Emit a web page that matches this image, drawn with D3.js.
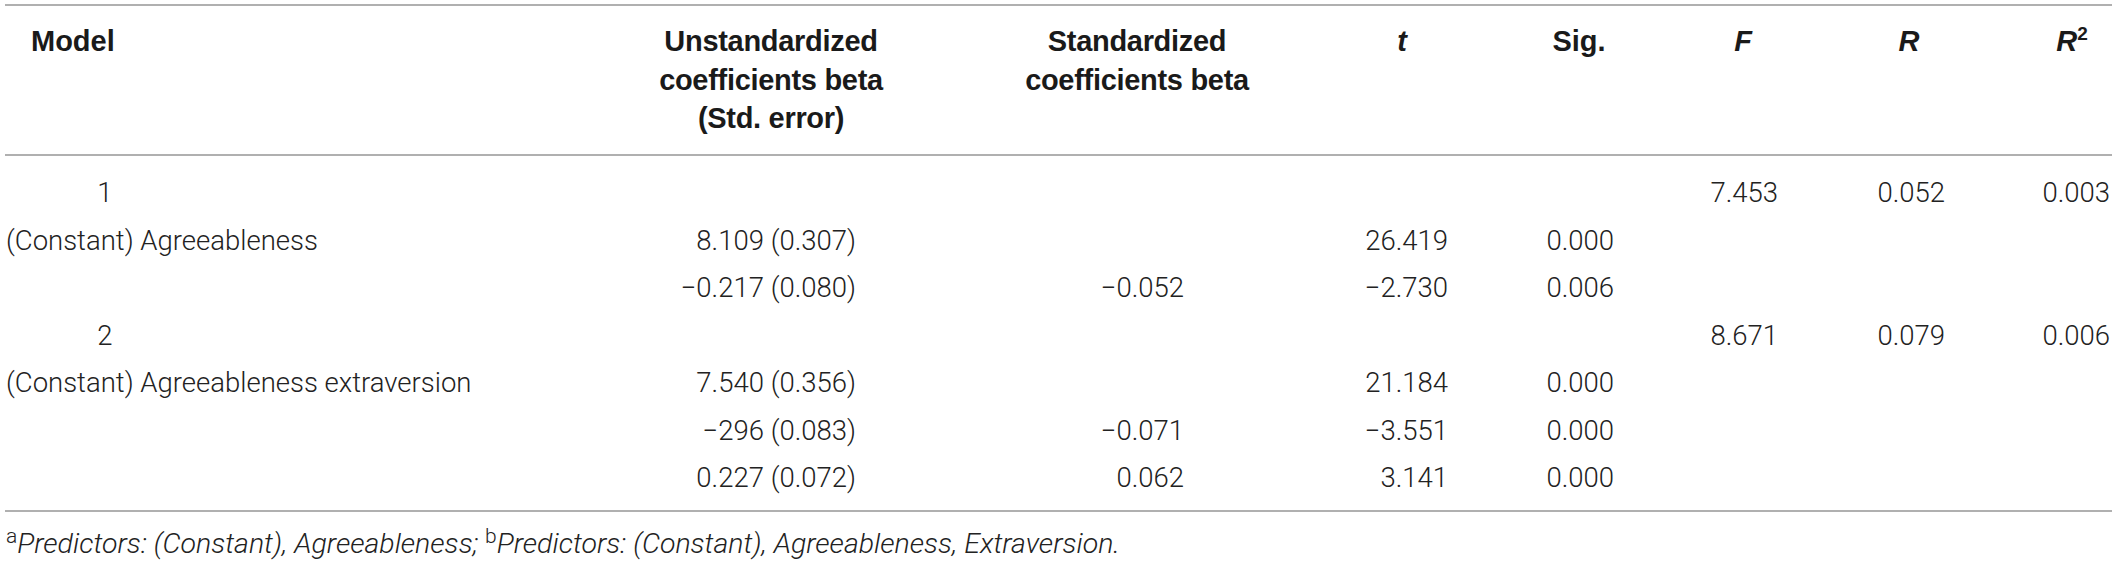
<!DOCTYPE html>
<html>
<head>
<meta charset="utf-8">
<script src="https://cdn.jsdelivr.net/npm/d3@7"></script>
<style>
  html, body { margin: 0; padding: 0; background: #fff; }
  svg { display: block; }
</style>
</head>
<body>
<svg id="chart" width="2117" height="565"></svg>
<script>
// ---- Data ----
const columnKeys = ["model", "unstd", "std", "t", "sig", "F", "R", "R2"];
const headerUnstd = ["Unstandardized", "coefficients beta", "(Std. error)"];
const headerStd = ["Standardized", "coefficients beta"];
const modelLabels = ["1", "(Constant) Agreeableness", "", "2", "(Constant) Agreeableness extraversion", "", ""];
const modelIsNumber = [true, false, false, true, false, false, false];
const unstdB = ["", "8.109 (0.307)", "\u22120.217 (0.080)", "", "7.540 (0.356)", "\u2212296 (0.083)", "0.227 (0.072)"];
const stdBeta = ["", "", "\u22120.052", "", "", "\u22120.071", "0.062"];
const tValues = ["", "26.419", "\u22122.730", "", "21.184", "\u22123.551", "3.141"];
const sigValues = ["", "0.000", "0.006", "", "0.000", "0.000", "0.000"];
const fValues = ["7.453", "", "", "8.671", "", "", ""];
const rValues = ["0.052", "", "", "0.079", "", "", ""];
const r2Values = ["0.003", "", "", "0.006", "", "", ""];
const footnoteParts = [
  {sup: "a", text: "Predictors: (Constant), Agreeableness; "},
  {sup: "b", text: "Predictors: (Constant), Agreeableness, Extraversion."}
];

// ---- Layout ----
const W = 2117;
const svg = d3.select("#chart");
const rowIdx = d3.range(modelLabels.length);
const y = d3.scalePoint().domain(rowIdx).range([202, 487]);
const headerCenter = d3.scaleOrdinal().domain(columnKeys)
  .range([31, 771, 1137, 1402, 1579, 1743, 1909, 2072]);
const valueRight = d3.scaleOrdinal().domain(columnKeys)
  .range([0, 856, 1184, 1448, 1614, 1778, 1945, 2110]);
const headerLineY = d3.scaleLinear().domain([0, 2]).range([51, 128]);

const lineColor = "#969696";
[5, 155, 511].forEach(ly => {
  svg.append("line").attr("x1", 5).attr("x2", W - 5).attr("y1", ly).attr("y2", ly)
    .attr("stroke", lineColor).attr("stroke-width", 1.6);
});

const headFont = "'Liberation Sans', Arial, sans-serif";
const bodyFont = "Roboto, 'Liberation Sans', sans-serif";
const head = svg.append("g").attr("font-family", headFont).attr("font-weight", 700)
  .attr("font-size", 29).attr("fill", "#1a1a1a");

head.append("text").attr("x", headerCenter("model")).attr("y", headerLineY(0)).text("Model");
head.selectAll("text.hu").data(headerUnstd).join("text").attr("class", "hu")
  .attr("x", headerCenter("unstd")).attr("y", (d, i) => headerLineY(i))
  .attr("text-anchor", "middle").attr("letter-spacing", -0.3).text(d => d);
head.selectAll("text.hs").data(headerStd).join("text").attr("class", "hs")
  .attr("x", headerCenter("std")).attr("y", (d, i) => headerLineY(i))
  .attr("text-anchor", "middle").attr("letter-spacing", -0.3).text(d => d);
head.append("text").attr("x", headerCenter("t")).attr("y", headerLineY(0))
  .attr("text-anchor", "middle").attr("font-style", "italic").text("t");
head.append("text").attr("x", headerCenter("sig")).attr("y", headerLineY(0))
  .attr("text-anchor", "middle").text("Sig.");
head.append("text").attr("x", headerCenter("F")).attr("y", headerLineY(0))
  .attr("text-anchor", "middle").attr("font-style", "italic").text("F");
head.append("text").attr("x", headerCenter("R")).attr("y", headerLineY(0))
  .attr("text-anchor", "middle").attr("font-style", "italic").text("R");
const r2 = head.append("text").attr("x", headerCenter("R2")).attr("y", headerLineY(0))
  .attr("text-anchor", "middle");
r2.append("tspan").attr("font-style", "italic").text("R");
r2.append("tspan").attr("font-size", 19).attr("dy", -11).text("2");

// ---- Body ----
const body = svg.append("g").attr("font-family", bodyFont).attr("font-weight", 300)
  .attr("font-size", 27.5).attr("fill", "#222");

body.selectAll("text.model").data(rowIdx.filter(i => modelLabels[i] !== "")).join("text")
  .attr("class", "model")
  .attr("x", i => modelIsNumber[i] ? 105 : 6)
  .attr("y", i => y(i))
  .attr("text-anchor", i => modelIsNumber[i] ? "middle" : "start")
  .text(i => modelLabels[i]);

const valueCols = [
  ["unstd", unstdB], ["std", stdBeta], ["t", tValues], ["sig", sigValues],
  ["F", fValues], ["R", rValues], ["R2", r2Values]
];
valueCols.forEach(([key, arr]) => {
  body.selectAll("text.c-" + key).data(rowIdx.filter(i => arr[i] !== "")).join("text")
    .attr("class", "c-" + key)
    .attr("x", valueRight(key))
    .attr("y", i => y(i))
    .attr("text-anchor", "end")
    .text(i => arr[i]);
});

// ---- Footnote ----
const foot = svg.append("text").attr("x", 6).attr("y", 553)
  .attr("font-family", bodyFont).attr("font-weight", 300).attr("font-size", 28.5).attr("fill", "#222");
footnoteParts.forEach(p => {
  foot.append("tspan").attr("font-size", 21).attr("dy", -10).text(p.sup);
  foot.append("tspan").attr("font-style", "italic").attr("dy", 10).text(p.text);
});
</script>
</body>
</html>
